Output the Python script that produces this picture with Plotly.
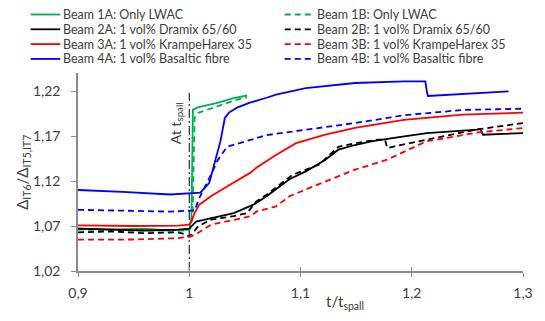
import plotly.graph_objects as go

# ---------------- data ----------------
t_1A = [0.9, 0.93, 0.96, 0.98, 1.0, 1.002, 1.0033, 1.0077, 1.0253, 1.04, 1.052]
v_1A = [1.067, 1.066, 1.067, 1.065, 1.066, 1.08, 1.199, 1.2018, 1.2067, 1.2122, 1.215]

t_1B = [0.9, 0.95, 1.0, 1.003, 1.0048, 1.0077, 1.025, 1.043, 1.052]
v_1B = [1.066, 1.065, 1.065, 1.08, 1.19, 1.1956, 1.203, 1.2103, 1.213]

t_2A = [0.9, 0.93, 0.96, 0.99, 1.0, 1.0062, 1.0195, 1.04, 1.0577, 1.0695, 1.09,
        1.1048, 1.1224, 1.134, 1.149, 1.1636, 1.184, 1.2136, 1.259, 1.2615, 1.264, 1.3]
v_2A = [1.067, 1.066, 1.065, 1.066, 1.067, 1.075, 1.0789, 1.0844, 1.0937, 1.103, 1.122,
        1.1307, 1.1437, 1.1548, 1.160, 1.164, 1.1678, 1.1733, 1.177, 1.178, 1.1714, 1.1733]

t_2B = [0.9, 0.93, 0.96, 0.99, 0.998, 1.0, 1.003, 1.008, 1.0195, 1.04, 1.052, 1.06,
        1.0695, 1.093, 1.1165, 1.134, 1.149, 1.17, 1.176, 1.178, 1.1846, 1.228, 1.2575, 1.3]
v_2B = [1.063, 1.064, 1.062, 1.063, 1.060, 1.058, 1.062, 1.0696, 1.077, 1.081, 1.0844, 1.097,
        1.1048, 1.127, 1.138, 1.158, 1.162, 1.166, 1.166, 1.1566, 1.1585, 1.1696, 1.177, 1.1844]

t_3A = [0.9, 0.95, 0.99, 1.0, 1.002, 1.0048, 1.009, 1.0195, 1.034, 1.0547, 1.0606,
        1.078, 1.096, 1.1224, 1.149, 1.193, 1.246, 1.3]
v_3A = [1.0707, 1.070, 1.0705, 1.0714, 1.075, 1.0844, 1.0937, 1.103, 1.114, 1.129, 1.135,
        1.149, 1.162, 1.1714, 1.179, 1.188, 1.1937, 1.196]

t_3B = [0.9, 0.95, 0.99, 1.0, 1.0048, 1.0195, 1.0547, 1.0606, 1.078, 1.09, 1.1195,
        1.149, 1.178, 1.213, 1.26, 1.3]
v_3B = [1.0548, 1.055, 1.0565, 1.058, 1.060, 1.0714, 1.0807, 1.0862, 1.0918, 1.103, 1.118,
        1.1326, 1.1437, 1.164, 1.174, 1.1789]

t_4A = [0.9, 0.94, 0.983, 1.0, 1.010, 1.018, 1.025, 1.028, 1.032, 1.0357, 1.043, 1.0545,
        1.0695, 1.078, 1.1048, 1.149, 1.193, 1.2122, 1.2135, 1.2145, 1.287]
v_4A = [1.110, 1.108, 1.105, 1.106, 1.107, 1.118, 1.150, 1.164, 1.190, 1.196, 1.2015, 1.207,
        1.2125, 1.216, 1.2233, 1.2289, 1.2307, 1.2307, 1.220, 1.2145, 1.2196]

t_4B = [0.9, 0.95, 0.983, 1.0, 1.0048, 1.009, 1.015, 1.020, 1.025, 1.0297, 1.034,
        1.0695, 1.1048, 1.149, 1.193, 1.246, 1.3]
v_4B = [1.088, 1.087, 1.086, 1.087, 1.087, 1.101, 1.115, 1.128, 1.142, 1.151, 1.158,
        1.171, 1.177, 1.1844, 1.193, 1.199, 1.2003]

names = ["Beam 1A: Only LWAC", "Beam 1B: Only LWAC",
         "Beam 2A: 1 vol% Dramix 65/60", "Beam 2B: 1 vol% Dramix 65/60",
         "Beam 3A: 1 vol% KrampeHarex 35", "Beam 3B: 1 vol% KrampeHarex 35",
         "Beam 4A: 1 vol% Basaltic fibre", "Beam 4B: 1 vol% Basaltic fibre"]
series_t = [t_1A, t_1B, t_2A, t_2B, t_3A, t_3B, t_4A, t_4B]
series_v = [v_1A, v_1B, v_2A, v_2B, v_3A, v_3B, v_4A, v_4B]
colors = ["#00B050", "#00B050", "#000000", "#000000", "#FF0000", "#FF0000", "#0000FF", "#0000FF"]
dashes = ["solid", "6px,4px"] * 4

spall_x = [1.0, 1.0]
spall_y = [1.02, 1.218]

x_ticks = [0.9, 1.0, 1.1, 1.2, 1.3]
x_ticktext = ["0,9", "1", "1,1", "1,2", "1,3"]
y_ticks = [1.02, 1.07, 1.12, 1.17, 1.22]
y_ticktext = ["1,02", "1,07", "1,12", "1,17", "1,22"]

FONT = "Lato"
TXT = "#404040"
AXC = "#8C8C8C"

fig = go.Figure()
fig.add_trace(go.Scatter(x=spall_x, y=spall_y, mode="lines",
                         line=dict(color="#000000", width=1, dash="9px,3px,2px,3px"),
                         showlegend=False, hoverinfo="skip"))
for t, v, n, c, d in zip(series_t, series_v, names, colors, dashes):
    fig.add_trace(go.Scatter(x=t, y=v, mode="lines", name=n,
                             line=dict(color=c, width=1.8, dash=d), showlegend=False))

W, H = 545, 321
ML, MR, MT, MB = 78, 15, 73, 50
PW, PH = W - ML - MR, H - MT - MB


def px(xp):
    return (xp - ML) / PW


def py(yp):
    return (H - MB - yp) / PH


# manual two-column legend
rows = [14.5, 29.3, 44.1, 58.9]
cols = [(30, 60, 61), (288, 318, 319)]
shapes = []
annotations = []
for i, (n, c, d) in enumerate(zip(names, colors, dashes)):
    r = rows[i // 2]
    x0, x1, xt = cols[i % 2]
    shapes.append(dict(type="line", xref="paper", yref="paper",
                       x0=px(x0), x1=px(x1), y0=py(r), y1=py(r),
                       line=dict(color=c, width=1.8, dash=d)))
    annotations.append(dict(xref="paper", yref="paper", x=px(xt), y=py(r),
                            xanchor="left", yanchor="middle", showarrow=False,
                            text=n, font=dict(family=FONT, size=12.5, color=TXT)))

annotations.append(dict(x=0.988, y=1.184, xref="x", yref="y", showarrow=False,
                        text="At t<sub>spall</sub>", textangle=-90,
                        font=dict(family=FONT, size=14, color=TXT)))
annotations.append(dict(xref="paper", yref="paper", x=px(349), y=py(302),
                        xanchor="center", yanchor="middle", showarrow=False,
                        text="t/t<sub>spall</sub>",
                        font=dict(family=FONT, size=15, color=TXT)))
annotations.append(dict(xref="paper", yref="paper", x=px(22), y=py(172),
                        xanchor="center", yanchor="middle", showarrow=False,
                        text="Δ<sub>IT6</sub>/Δ<sub>IT5,IT7</sub>", textangle=-90,
                        font=dict(family=FONT, size=15, color=TXT)))

fig.update_layout(
    width=W, height=H, autosize=False,
    margin=dict(l=ML, r=MR, t=MT, b=MB),
    paper_bgcolor="white", plot_bgcolor="white",
    showlegend=False,
    shapes=shapes, annotations=annotations,
    xaxis=dict(range=[0.9, 1.3], tickvals=x_ticks, ticktext=x_ticktext,
               showgrid=False, zeroline=False, showline=True, linecolor=AXC, linewidth=1.5,
               ticks="outside", ticklen=4, tickcolor=AXC, tickwidth=1.2,
               tickfont=dict(family=FONT, size=14, color=TXT), ticklabelstandoff=4),
    xaxis2=dict(range=[0.9, 1.3], tickvals=x_ticks, overlaying="x", anchor="y",
                showticklabels=False, showgrid=False, zeroline=False, showline=False,
                ticks="inside", ticklen=4, tickcolor=AXC, tickwidth=1.2),
    yaxis=dict(range=[1.02, 1.24], tickvals=y_ticks, ticktext=y_ticktext,
               showgrid=False, zeroline=False, showline=True, linecolor=AXC, linewidth=1.5,
               ticks="outside", ticklen=5, tickcolor=AXC, tickwidth=1.2,
               tickfont=dict(family=FONT, size=14, color=TXT), ticklabelstandoff=8),
)
fig.add_trace(go.Scatter(x=[0.9], y=[1.02], xaxis="x2", mode="markers",
                         marker=dict(opacity=0), showlegend=False, hoverinfo="skip"))

fig.write_html("out.html")
